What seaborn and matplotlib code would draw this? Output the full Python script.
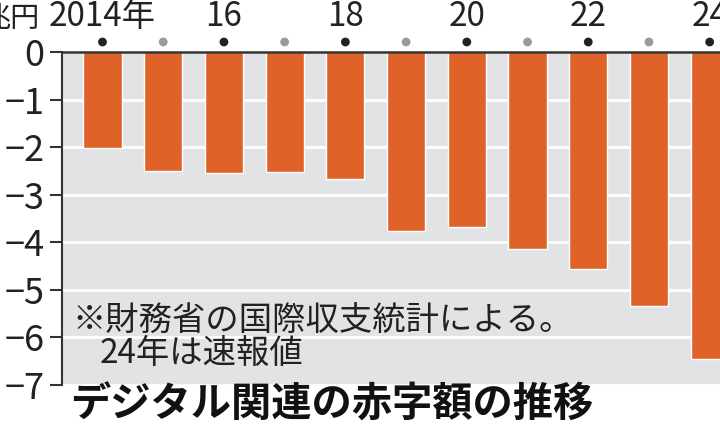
import seaborn as sns
import matplotlib.pyplot as plt

# データ (兆円)
years = ['2014', '2015', '2016', '2017', '2018', '2019', '2020', '2021', '2022', '2023', '2024']
deficit = [-2.02, -2.51, -2.54, -2.52, -2.67, -3.77, -3.68, -4.15, -4.56, -5.34, -6.45]
year_labels = ['2014年', '', '16', '', '18', '', '20', '', '22', '', '24']
dot_colors = ['#222222' if lab else '#9a9a9a' for lab in year_labels]
yticks = [0, -1, -2, -3, -4, -5, -6, -7]

sns.set_theme(style='white')
jp = ['Noto Sans CJK JP', 'DejaVu Sans']
plt.rcParams['font.family'] = jp

fig = plt.figure(figsize=(7.2, 4.24), dpi=100)
ax = fig.add_axes([62 / 720, 1 - 385 / 424, 1 - 62 / 720, (385 - 52) / 424])
ax.set_facecolor('#e2e3e5')

sns.barplot(x=years, y=deficit, color='#df6228', saturation=1, width=0.63, ax=ax, zorder=3)

ax.set_ylim(-7, 0)
ax.set_xlim(-0.667, 10.17)
ax.set_yticks(yticks)
ax.set_yticklabels([str(v).replace('-', '\u2212') for v in yticks])
ax.set_xlabel('')
ax.set_ylabel('')

# 白い目盛り線
ax.set_axisbelow(True)
ax.yaxis.grid(True, color='white', linewidth=2)
ax.xaxis.grid(False)

# 軸
for side in ['right', 'bottom']:
    ax.spines[side].set_visible(False)
ax.spines['left'].set_color('#333333')
ax.spines['left'].set_linewidth(1.5)
ax.spines['top'].set_color('#333333')
ax.spines['top'].set_linewidth(1.8)
ax.spines['top'].set_zorder(5)
ax.tick_params(axis='y', left=True, length=8.5, width=1.5, color='#333333',
               labelsize=26, pad=4, labelcolor='#222222')

# 年ラベル (上)
ax.xaxis.tick_top()
ax.set_xticks(range(len(years)))
ax.set_xticklabels(year_labels)
ax.tick_params(axis='x', top=False, length=0, labelsize=24, pad=13, labelcolor='#222222')

# 年の点
ax.scatter(range(len(years)), [1 + 10 / 333] * len(years), s=40, c=dot_colors,
           transform=ax.get_xaxis_transform(), clip_on=False, zorder=6, linewidths=0)

fig.text(40 / 720, 1 - 18 / 424, '兆円', ha='right', va='center', fontsize=21,
         color='#222222')

fig.text(72 / 720, 1 - 320 / 424, '※財務省の国際収支統計による。', ha='left', va='center',
         fontsize=24, color='#222222')
fig.text(100 / 720, 1 - 353 / 424, '24年は速報値', ha='left', va='center',
         fontsize=24, color='#222222')

fig.text(70 / 720, 1 - 405 / 424, 'デジタル関連の赤字額の推移', ha='left', va='center',
         fontsize=29, fontweight='bold', color='#111111')

fig.savefig('out.png', dpi=100)
